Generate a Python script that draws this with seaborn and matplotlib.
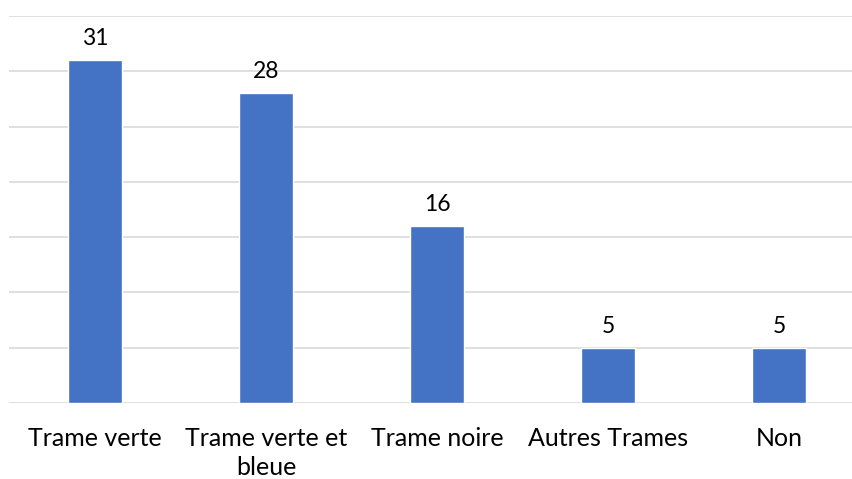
import matplotlib
matplotlib.use("Agg")
import matplotlib.pyplot as plt
import seaborn as sns
import pandas as pd

categories = ["Trame verte", "Trame verte et\nbleue", "Trame noire", "Autres Trames", "Non"]
values = [31, 28, 16, 5, 5]

sns.set_theme(style="white")
plt.rcParams['font.family'] = ['Lato', 'DejaVu Sans']

df = pd.DataFrame({"cat": categories, "val": values})

fig = plt.figure(figsize=(8.53, 4.79), dpi=100)
ax = fig.add_axes([9.4 / 853, (479 - 403) / 479, (865 - 9.4) / 853, (403 - 16) / 479])
sns.barplot(data=df, x="cat", y="val", color="#4472C4", width=0.316, saturation=1, ax=ax)
ax.set_ylim(0, 35)
ax.set_xlim(-0.5, 4.5)
ax.set_yticks(range(0, 36, 5))
ax.yaxis.grid(True, color="#D9D9D9", linewidth=1.2)
ax.set_axisbelow(True)
for s in ["top", "right", "left", "bottom"]:
    ax.spines[s].set_visible(False)
ax.set_yticklabels([])
ax.tick_params(axis="y", length=0)
ax.tick_params(axis="x", length=0, pad=17, labelsize=18, labelcolor="black")
ax.set_xlabel("")
ax.set_ylabel("")
for lbl in ax.get_xticklabels():
    lbl.set_linespacing(1.32)
for c in ax.containers:
    ax.bar_label(c, labels=[str(v) for v in values], padding=8, fontsize=16.5, color="black")

fig.savefig("out.png", dpi=100)
